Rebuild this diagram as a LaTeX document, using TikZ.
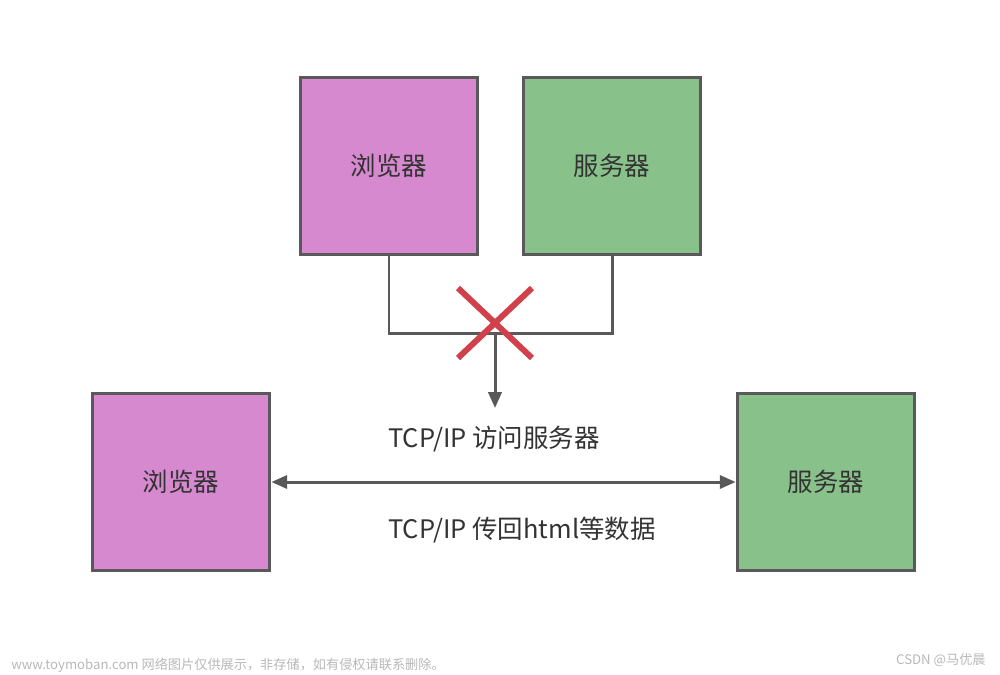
\documentclass[tikz,border=0pt]{standalone}
\usepackage{fontspec}
\newfontfamily\cjk{Noto Sans CJK SC}
\usetikzlibrary{arrows.meta}
\definecolor{bpink}{HTML}{D689CF}
\definecolor{sgreen}{HTML}{88C28A}
\definecolor{edge}{HTML}{595959}
\definecolor{xred}{HTML}{D0414B}
\definecolor{txt}{HTML}{333333}
\definecolor{wm}{HTML}{B8B8B8}
\tikzset{
  box/.style={draw=edge, line width=1.9pt, minimum width=101pt, minimum height=101pt, inner sep=0pt, font=\cjk\fontsize{14.5}{16}\selectfont, text=txt},
  conn/.style={draw=edge, line width=1.7pt},
  arrowend/.style={-{Triangle[length=9pt,width=7.5pt]}},
  lbl/.style={font=\cjk\fontsize{14.5}{16}\selectfont, text=txt, anchor=west, inner sep=0pt},
  wmark/.style={font=\cjk\fontsize{7.5}{9}\selectfont, text=wm, inner sep=0pt}
}
\begin{document}
\begin{tikzpicture}[x=0.02cm, y=-0.02cm]
\useasboundingbox (0,0) rectangle (1000,674);
\node[box, fill=bpink] (b1) at (389,166) {浏览器};
\node[box, fill=sgreen] (s1) at (612,166) {服务器};
\node[box, fill=bpink] (b2) at (181,482) {浏览器};
\node[box, fill=sgreen] (s2) at (826,482) {服务器};
\coordinate (j) at (495,333);
\coordinate (e) at (495,408);
\draw[conn] (b1.south) |- (j) -| (s1.south);
\draw[conn, arrowend] (j) -- (e);
\draw[xred, line width=3.4pt] (458,288) coordinate (x1) -- (532,358) coordinate (x2);
\draw[xred, line width=3.4pt] (532,288) coordinate (x3) -- (458,358) coordinate (x4);
\draw[conn, {Triangle[length=9pt,width=7.5pt]}-{Triangle[length=9pt,width=7.5pt]}] (b2.east) -- (s2.west);
\node[lbl] (l1) at (388,439) {TCP/IP 访问服务器};
\node[lbl] (l2) at (388,530) {TCP/IP 传回html等数据};
\node[wmark, anchor=west] (w1) at (11,665) {www.toymoban.com 网络图片仅供展示，非存储，如有侵权请联系删除。};
\node[wmark, anchor=east] (w2) at (986,660) {CSDN @马优晨};
\end{tikzpicture}
\end{document}
